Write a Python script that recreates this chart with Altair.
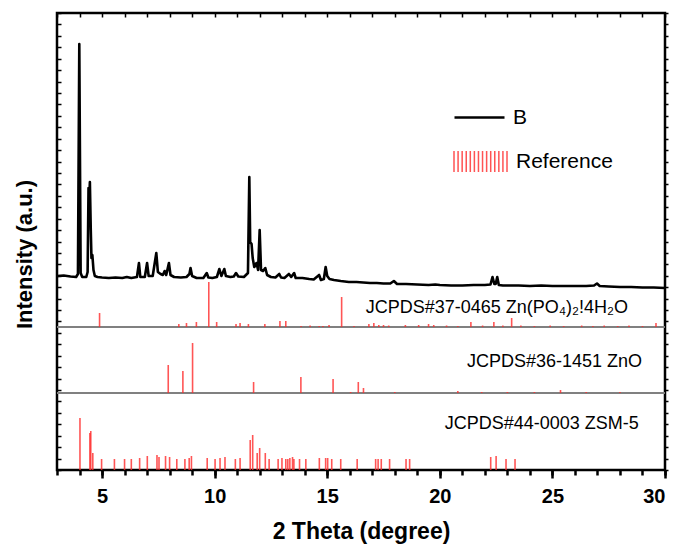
import altair as alt
import pandas as pd

FONT = "Liberation Sans"

# ---- measured XRD pattern (sample B) ----
xrd_theta = [3.00, 3.30, 3.60, 3.85, 3.93, 3.99, 4.05, 4.12, 4.30, 4.36, 4.40, 4.43, 4.46, 4.50,
             4.53, 4.57, 4.62, 4.68, 4.80, 5.00, 5.30, 5.60, 5.90, 6.10, 6.30, 6.55, 6.64, 6.70,
             6.90, 7.00, 7.07, 7.25, 7.41, 7.48, 7.60, 7.70, 7.78, 7.85, 7.97, 8.04, 8.20, 8.50,
             8.75, 8.88, 8.93, 9.00, 9.20, 9.50, 9.65, 9.72, 9.90, 10.10, 10.21, 10.30, 10.43,
             10.50, 10.70, 10.85, 10.95, 11.05, 11.30, 11.48, 11.54, 11.58, 11.64, 11.69, 11.76,
             11.86, 11.93, 12.00, 12.06, 12.15, 12.25, 12.33, 12.50, 12.70, 12.87, 12.95, 13.10,
             13.30, 13.40, 13.53, 13.60, 13.90, 14.20, 14.40, 14.64, 14.72, 14.85, 14.93, 15.00,
             15.10, 15.30, 15.60, 15.96, 16.30, 16.60, 16.90, 17.20, 17.50, 17.80, 17.96, 18.10,
             18.50, 19.00, 19.50, 19.80, 20.00, 20.50, 21.00, 21.50, 22.00, 22.25, 22.34, 22.42,
             22.48, 22.55, 22.62, 22.80, 23.50, 24.00, 24.50, 25.00, 25.50, 26.00, 26.50, 26.85,
             26.98, 27.10, 27.50, 28.00, 28.50, 29.00, 29.50, 30.00]
xrd_int = [194, 194.5, 193.5, 193, 196, 426, 197, 193, 193, 198, 282, 270, 288, 240,
           212, 215, 200, 194, 193, 192.5, 192, 192.5, 192, 193, 192, 193, 207, 193,
           193, 207, 194, 194, 217, 198, 196, 195, 199, 195, 207, 195, 193, 192.5,
           193, 196, 202, 194, 192, 192, 197, 192.5, 192, 193, 201, 194, 201,
           194, 193, 193.5, 197, 193.5, 193, 197, 293, 228, 226, 212, 203,
           207, 200, 240, 200, 199, 202, 195, 193, 192.5, 196, 192.5, 192,
           196, 193, 197, 192, 192, 191, 190.5, 195, 190, 191, 203, 194,
           191, 190, 189, 188, 188, 187.5, 187, 187, 186.5, 186.5, 189, 186,
           186, 185.5, 185, 185.5, 185, 184.5, 184.5, 185, 185, 185.5, 193, 186,
           186, 193, 185, 184.5, 184.5, 184, 184.5, 184, 184, 184, 184, 184.5,
           186.5, 184, 183.5, 183, 183, 182.5, 182.5, 182]

# ---- reference stick patterns (relative heights) ----
zp_theta = [4.89, 8.41, 8.75, 9.19, 9.74, 10.09, 10.95, 11.13, 11.50, 12.23, 12.90, 13.16, 13.84,
            14.24, 14.64, 14.81, 15.08, 15.64, 16.19, 16.85, 17.07, 17.29, 17.50, 17.73, 18.47,
            19.06, 19.50, 19.73, 20.30, 20.80, 21.38, 21.90, 22.40, 22.80, 23.19, 23.60, 24.20,
            24.90, 25.50, 26.30, 26.80, 27.30, 27.90, 28.40, 29.00, 29.60]
zp_int = [14, 3, 4, 5, 45, 5, 3, 4, 3, 3, 6, 6, 1,
          1.5, 1, 1, 2, 30, 1, 3, 4, 2, 2, 1.5, 2,
          2, 3, 2, 1.5, 1, 5, 1.5, 5, 1.5, 9, 1.5, 1,
          1.5, 1, 1.5, 1, 1.5, 1, 1.5, 1, 4]

zno_theta = [7.94, 8.59, 9.02, 11.73, 13.83, 15.26, 16.04, 16.38, 16.61, 18.00, 20.80, 21.86,
             23.00, 24.20, 25.36, 26.50, 28.00]
zno_int = [28, 22, 50, 11, 16, 14, 1, 11, 5, 1, 2, 1, 1, 1, 3, 1, 1]

zsm_theta = [4.02, 4.46, 4.50, 4.59, 4.98, 5.55, 6.00, 6.30, 6.67, 7.01, 7.44, 7.53, 7.82, 8.00,
             8.32, 8.68, 8.87, 8.97, 9.67, 10.02, 10.24, 10.46, 10.92, 11.13, 11.58, 11.69,
             11.89, 12.00, 12.25, 12.42, 12.82, 12.99, 13.16, 13.25, 13.34, 13.46, 13.52,
             13.77, 14.05, 14.65, 14.93, 15.02, 15.20, 15.60, 16.33, 17.15, 17.26, 17.40,
             17.77, 18.50, 18.66, 22.26, 22.50, 22.94, 23.34]
zsm_int = [52, 37, 39, 17, 11, 11, 11, 11, 12, 14, 15, 13, 14, 13,
           11, 11, 12, 14, 12, 11, 12, 13, 11, 12, 30, 35,
           17, 22, 17, 11, 11, 12, 11, 11, 12, 13, 11,
           11, 11, 12, 12, 12, 11, 11, 11, 11, 11, 11,
           11, 11, 11, 13, 14, 11, 11]

panel_labels = ["JCPDS#37-0465 Zn(PO\u2084)\u2082!4H\u2082O", "JCPDS#36-1451 ZnO", "JCPDS#44-0003 ZSM-5"]
panel_base = [143, 77, 0]
label_theta = [28.36, 28.98, 28.84]
label_int = [162, 108, 46]

# ---- tables ----
xrd = pd.DataFrame({"theta": xrd_theta, "I": xrd_int, "series": "B"})

rows = []
for (th, it), base in zip([(zp_theta, zp_int), (zno_theta, zno_int), (zsm_theta, zsm_int)], panel_base):
    for t, h in zip(th, it):
        rows.append({"theta": t, "y0": base, "y1": base + h, "kind": "Reference"})
sticks_df = pd.DataFrame(rows)

div_df = pd.DataFrame({"level": [b for b in panel_base if b > 0]})
lab_df = pd.DataFrame({"tx": label_theta, "ty": label_int, "label": panel_labels})

xs = alt.Scale(domain=[3, 30], nice=False, zero=False)
ys = alt.Scale(domain=[0, 457], nice=False, zero=False)
ytick_vals = [round(i * 457 / 40, 3) for i in range(41)]
minor_x = list(range(3, 31))

HATCH = "".join(f"M{-1 + i * 2 / 13:.3f},-0.4V0.4" for i in range(14))

dividers = alt.Chart(div_df).mark_rule(color="#808080", strokeWidth=2).encode(
    y=alt.Y("level:Q", scale=ys, axis=None)
)

sticks = alt.Chart(sticks_df).mark_rule(strokeWidth=1.6, opacity=0.8).encode(
    x=alt.X("theta:Q", scale=xs, axis=alt.Axis(orient="bottom", values=minor_x, tickSize=5,
            tickWidth=2.5, tickColor="black", labels=False, domain=False, grid=False, title=None)),
    y=alt.Y("y0:Q", scale=ys, axis=alt.Axis(orient="right", values=ytick_vals, tickSize=3,
            tickWidth=1.5, tickColor="black", labels=False, domain=False, grid=False, title=None)),
    y2="y1:Q",
    color=alt.Color("kind:N", scale=alt.Scale(domain=["Reference"], range=["#ff2a2a"]),
                    legend=alt.Legend(orient="none", legendX=396, legendY=121, title=None,
                                      symbolType=HATCH, symbolSize=2809, symbolStrokeWidth=1.5,
                                      labelFont=FONT, labelFontSize=21, labelColor="black",
                                      labelOffset=8, padding=0)),
)

line = alt.Chart(xrd).mark_line(strokeWidth=2.6, strokeJoin="round").encode(
    x=alt.X("theta:Q", scale=xs, axis=alt.Axis(orient="bottom", values=[5, 10, 15, 20, 25, 30],
            tickSize=8, tickWidth=2.5, tickColor="black", domain=False, grid=False,
            labelFont=FONT, labelFontSize=20, labelFontWeight="bold", labelColor="black",
            labelPadding=8, title="2 Theta (degree)", titleFont=FONT, titleFontSize=23,
            titleFontWeight="bold", titleColor="black", titlePadding=14)),
    y=alt.Y("I:Q", scale=ys, axis=alt.Axis(orient="left", values=ytick_vals, tickSize=4, offset=-4,
            tickWidth=1.5, tickColor="black", domain=False, labels=False, grid=False,
            title="Intensity (a.u.)", titleFont=FONT, titleFontSize=22, titleFontWeight="bold",
            titleColor="black", titleAngle=270, titleX=-37, titleY=241,
            titleAlign="center", titleBaseline="middle")),
    stroke=alt.Stroke("series:N", scale=alt.Scale(domain=["B"], range=["black"]),
                      legend=alt.Legend(orient="none", legendX=396, legendY=78, title=None,
                                        symbolType="stroke", symbolSize=2500, symbolStrokeWidth=2.5,
                                        labelFont=FONT, labelFontSize=21, labelColor="black",
                                        labelOffset=7, padding=0)),
)

labels = alt.Chart(lab_df).mark_text(align="right", baseline="middle", font=FONT, fontSize=18,
                                     color="black").encode(
    x=alt.X("tx:Q", scale=xs, axis=alt.Axis(orient="top", values=minor_x, tickSize=4, offset=-4,
            tickWidth=1.5, tickColor="black", labels=False, domain=False, grid=False, title=None)),
    y=alt.Y("ty:Q", scale=ys, axis=None),
    text="label:N",
)

chart = alt.layer(dividers, sticks, line, labels).resolve_scale(
    color="independent", stroke="independent"
).resolve_axis(x="independent", y="independent").resolve_legend(
    color="independent", stroke="independent"
).properties(
    width=608, height=457,
    autosize=alt.AutoSizeParams(type="none"),
    padding={"left": 57, "top": 13, "right": 16, "bottom": 82},
).configure_view(stroke="black", strokeWidth=2.5)

chart.save("out.html", embed_options={"renderer": "svg", "actions": False})
